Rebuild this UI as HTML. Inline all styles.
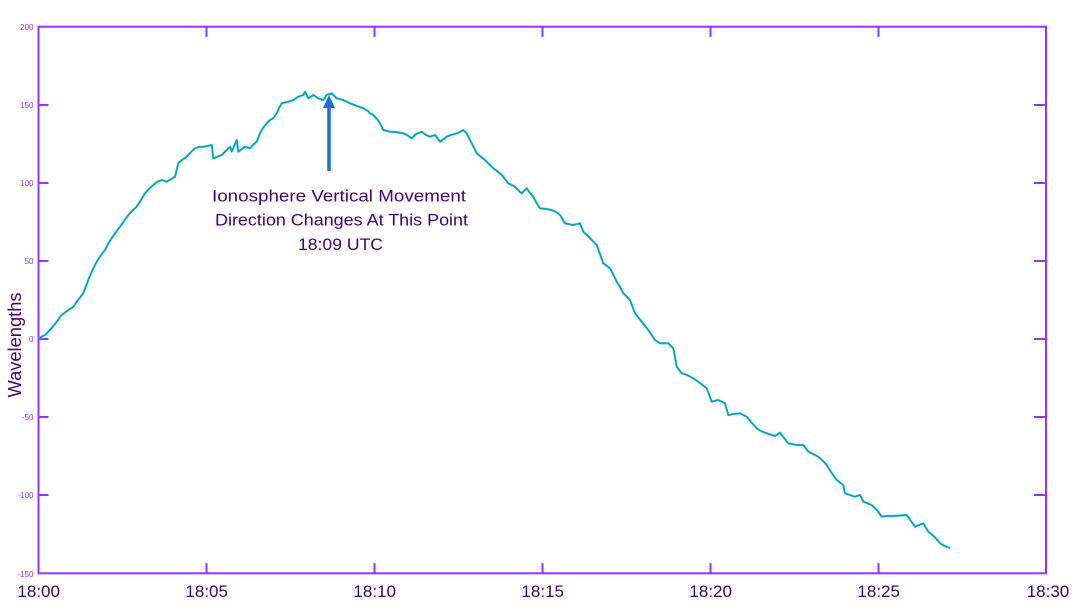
<!DOCTYPE html>
<html>
<head>
<meta charset="utf-8">
<style>
html,body{margin:0;padding:0;background:#fff;}
svg{display:block;}
</style>
</head>
<body>
<svg width="1080" height="610" viewBox="0 0 1080 610" xmlns="http://www.w3.org/2000/svg">
<rect width="1080" height="610" fill="#fff"/>
<!-- axes box -->
<rect x="38.5" y="26.7" width="1007.5" height="546.6" fill="none" stroke="#9b30ff" stroke-width="2"/>
<!-- ticks -->
<g stroke="#9b30ff" stroke-width="2">
  <line x1="206.5" y1="27" x2="206.5" y2="37"/>
  <line x1="374.5" y1="27" x2="374.5" y2="37"/>
  <line x1="542.5" y1="27" x2="542.5" y2="37"/>
  <line x1="710.5" y1="27" x2="710.5" y2="37"/>
  <line x1="878.5" y1="27" x2="878.5" y2="37"/>
  <line x1="206.5" y1="573" x2="206.5" y2="563"/>
  <line x1="374.5" y1="573" x2="374.5" y2="563"/>
  <line x1="542.5" y1="573" x2="542.5" y2="563"/>
  <line x1="710.5" y1="573" x2="710.5" y2="563"/>
  <line x1="878.5" y1="573" x2="878.5" y2="563"/>
  <line x1="38.5" y1="105" x2="48.5" y2="105"/>
  <line x1="38.5" y1="183" x2="48.5" y2="183"/>
  <line x1="38.5" y1="261" x2="48.5" y2="261"/>
  <line x1="38.5" y1="339" x2="48.5" y2="339"/>
  <line x1="38.5" y1="417" x2="48.5" y2="417"/>
  <line x1="38.5" y1="495" x2="48.5" y2="495"/>
  <line x1="1046" y1="105" x2="1034" y2="105"/>
  <line x1="1046" y1="183" x2="1034" y2="183"/>
  <line x1="1046" y1="261" x2="1034" y2="261"/>
  <line x1="1046" y1="339" x2="1034" y2="339"/>
  <line x1="1046" y1="417" x2="1034" y2="417"/>
  <line x1="1046" y1="495" x2="1034" y2="495"/>
</g>
<!-- y tick labels -->
<g font-family="Liberation Sans, sans-serif" font-size="8" fill="#a030ff" text-anchor="end">
  <text x="33.5" y="30">200</text>
  <text x="33.5" y="108">150</text>
  <text x="33.5" y="186">100</text>
  <text x="33.5" y="264">50</text>
  <text x="33.5" y="342">0</text>
  <text x="33.5" y="420">-50</text>
  <text x="33.5" y="498">-100</text>
  <text x="33.5" y="577">-150</text>
</g>
<!-- x tick labels -->
<g font-family="Liberation Sans, sans-serif" font-size="17" fill="#3a0060" text-anchor="middle">
  <text x="38.7" y="597">18:00</text>
  <text x="206.7" y="597">18:05</text>
  <text x="374.7" y="597">18:10</text>
  <text x="542.7" y="597">18:15</text>
  <text x="710.7" y="597">18:20</text>
  <text x="878.7" y="597">18:25</text>
  <text x="1048" y="597">18:30</text>
</g>
<!-- y axis title -->
<text transform="translate(21,345) rotate(-90)" font-family="Liberation Sans, sans-serif" font-size="18" fill="#4b0070" text-anchor="middle" textLength="105" lengthAdjust="spacingAndGlyphs">Wavelengths</text>
<!-- data line -->
<polyline fill="none" stroke="#22c8d8" stroke-width="2.2" stroke-linejoin="round" points="38.3,338.3 45,335 50,330 55,324 61.7,315 67,311 73.3,306.7 78,300 83.3,293.3 88.3,280 92,271 96.7,261.7 101,255 105,250 108,244 111.7,238.3 116,232 120,226.7 124,221 128.3,215 132,211 136.7,206.7 141,200 145,193.3 149,189 153.3,185 157,182 161.7,180 166.7,181.7 171,179 175,176.7 178.3,163.3 182,160 186.7,156.7 191,152 195,148.3 199,147 203.3,146.7 207,146 211.7,145 213.3,158.3 217,157 221.7,155 226.7,150 230,146.7 231.7,151.7 236.7,140 238.3,151.7 242,149 245,146.7 250,148.3 253,145 256.7,141.7 260,133.3 263,128 266.7,123.3 270,120 273.3,118.3 276.7,113.3 279,108 281.7,103.3 288.3,101.7 293.3,100 298.3,96.7 303.3,95 305,91.7 308.3,98.3 313.3,95 318.3,98.3 323.3,100 326.7,95 331.7,93.3 336.7,98.3 343,100 350,103.3 357,106 363.3,108.3 368,111 370,113.3 373.3,115 377,119 380,123.3 383.3,130 390,131.7 396,132 403.3,133.3 407,135 411.7,138.3 416,134 421.7,131.7 426,135 430,136.7 435,135 440,141.7 446.7,136.7 451,135 456.7,133.3 460,132 463.3,130 466.7,133.3 471.7,143.3 476.7,153.3 480,156 485,160 489,164 493.3,168.3 497,171 501.7,175 505,179 508.3,183.3 515,186.7 518,190 521.7,193.3 526.7,188.3 530,193 533.3,196.7 536,202 540,208.3 546,209 551.7,210 556,212 560,215 565,223.3 573.3,225 580,223.3 583.3,231.7 588,236 591.7,240 596.7,245 600,254 603.3,263.3 610,268.3 613,274 616.7,281.7 620,287 623.3,293.3 630,300 635,313.3 641.7,321.7 648.3,330 655,340 660,343.3 668.3,343.3 673.3,348.3 676.7,366.7 681.7,373.3 687,375 693.3,378.3 700,383 706.7,388.3 711.7,401.7 718.3,400 725,403.3 728.3,415 734,414 740,413.3 746.7,416.7 751,422 756.7,428.3 761,431 766.7,433.3 775,436 780,432.7 784,438 788.3,443.3 796.7,445 803.3,445 808.3,451.7 813,454 818.3,456.7 822,460 826.7,465 831,472 836.7,480 843.3,485 845,493.3 850,495 855,496.7 860,495 863.3,501.7 867,503 871.7,505 878.3,511.7 881.7,516.7 887,516 893.3,516 900,515.5 906.7,515 911,521 915,526.7 919,525 923.3,523.3 928.3,531.7 935,537.3 940,543.3 945,546 950,548.3"/>
<polyline fill="none" stroke="#1090b0" stroke-width="1" stroke-linejoin="round" points="38.3,338.3 45,335 50,330 55,324 61.7,315 67,311 73.3,306.7 78,300 83.3,293.3 88.3,280 92,271 96.7,261.7 101,255 105,250 108,244 111.7,238.3 116,232 120,226.7 124,221 128.3,215 132,211 136.7,206.7 141,200 145,193.3 149,189 153.3,185 157,182 161.7,180 166.7,181.7 171,179 175,176.7 178.3,163.3 182,160 186.7,156.7 191,152 195,148.3 199,147 203.3,146.7 207,146 211.7,145 213.3,158.3 217,157 221.7,155 226.7,150 230,146.7 231.7,151.7 236.7,140 238.3,151.7 242,149 245,146.7 250,148.3 253,145 256.7,141.7 260,133.3 263,128 266.7,123.3 270,120 273.3,118.3 276.7,113.3 279,108 281.7,103.3 288.3,101.7 293.3,100 298.3,96.7 303.3,95 305,91.7 308.3,98.3 313.3,95 318.3,98.3 323.3,100 326.7,95 331.7,93.3 336.7,98.3 343,100 350,103.3 357,106 363.3,108.3 368,111 370,113.3 373.3,115 377,119 380,123.3 383.3,130 390,131.7 396,132 403.3,133.3 407,135 411.7,138.3 416,134 421.7,131.7 426,135 430,136.7 435,135 440,141.7 446.7,136.7 451,135 456.7,133.3 460,132 463.3,130 466.7,133.3 471.7,143.3 476.7,153.3 480,156 485,160 489,164 493.3,168.3 497,171 501.7,175 505,179 508.3,183.3 515,186.7 518,190 521.7,193.3 526.7,188.3 530,193 533.3,196.7 536,202 540,208.3 546,209 551.7,210 556,212 560,215 565,223.3 573.3,225 580,223.3 583.3,231.7 588,236 591.7,240 596.7,245 600,254 603.3,263.3 610,268.3 613,274 616.7,281.7 620,287 623.3,293.3 630,300 635,313.3 641.7,321.7 648.3,330 655,340 660,343.3 668.3,343.3 673.3,348.3 676.7,366.7 681.7,373.3 687,375 693.3,378.3 700,383 706.7,388.3 711.7,401.7 718.3,400 725,403.3 728.3,415 734,414 740,413.3 746.7,416.7 751,422 756.7,428.3 761,431 766.7,433.3 775,436 780,432.7 784,438 788.3,443.3 796.7,445 803.3,445 808.3,451.7 813,454 818.3,456.7 822,460 826.7,465 831,472 836.7,480 843.3,485 845,493.3 850,495 855,496.7 860,495 863.3,501.7 867,503 871.7,505 878.3,511.7 881.7,516.7 887,516 893.3,516 900,515.5 906.7,515 911,521 915,526.7 919,525 923.3,523.3 928.3,531.7 935,537.3 940,543.3 945,546 950,548.3"/>
<!-- arrow -->
<line x1="329" y1="171" x2="329" y2="106" stroke="#1e6fd9" stroke-width="3.5"/>
<polygon points="323,108 335,108 329,95" fill="#1e6fd9"/>
<!-- annotation -->
<g font-family="Liberation Sans, sans-serif" font-size="17" fill="#45006e">
  <text x="212" y="201.5" textLength="254" lengthAdjust="spacingAndGlyphs">Ionosphere Vertical Movement</text>
  <text x="215" y="225.5" textLength="253" lengthAdjust="spacingAndGlyphs">Direction Changes At This Point</text>
  <text x="298" y="250" textLength="85" lengthAdjust="spacingAndGlyphs">18:09 UTC</text>
</g>
</svg>
</body>
</html>
